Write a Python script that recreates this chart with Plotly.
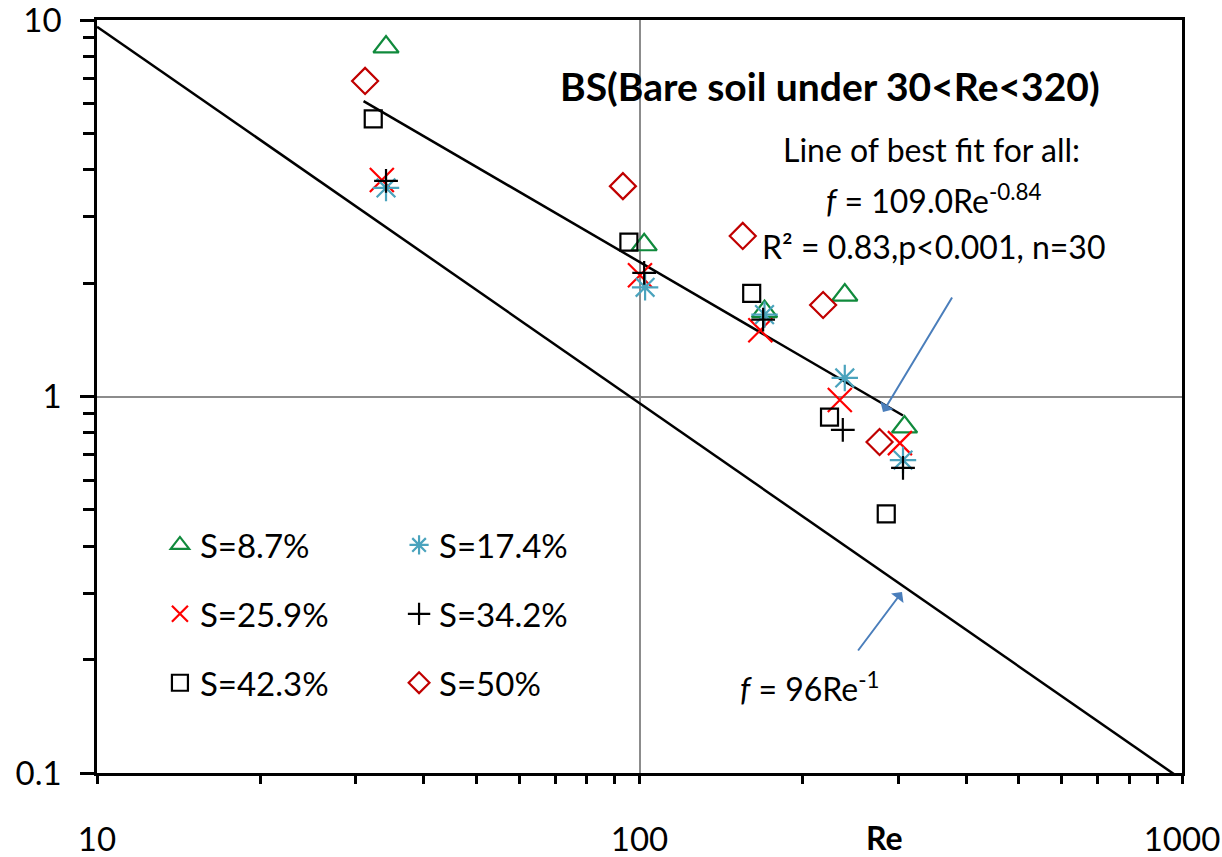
import plotly.graph_objects as go

# ---- data ----
re_s87 = [34.1, 102, 170, 239, 308]
f_s87 = [8.48, 2.53, 1.68, 1.86, 0.83]
re_s174 = [34.1, 102.4, 170, 239, 306]
f_s174 = [3.58, 1.95, 1.65, 1.12, 0.678]
re_s259 = [33.5, 100.2, 167, 234, 302]
f_s259 = [3.76, 2.10, 1.50, 0.979, 0.752]
re_s342 = [34.1, 102, 169, 237, 306]
f_s342 = [3.74, 2.13, 1.60, 0.815, 0.646]
re_s423 = [32.3, 95.6, 161, 224, 285]
f_s423 = [5.46, 2.57, 1.88, 0.882, 0.488]
re_s50 = [31.2, 93.2, 155, 218, 277]
f_s50 = [6.89, 3.62, 2.67, 1.75, 0.757]

# model lines (straight in log-log space)
laminar_coef, laminar_exp = 96.0, -1.0
laminar_re = [10, 1000]
fit_coef, fit_exp = 109.0, -0.84
fit_re = [31.0, 306.0]

x_ticks = [10, 100, 1000]
y_ticks = [0.1, 1, 10]

FONT = "Lato"

fig = go.Figure()

fig.add_trace(go.Scatter(
    x=laminar_re, y=[laminar_coef * r ** laminar_exp for r in laminar_re],
    mode="lines", line=dict(color="black", width=2.5), showlegend=False, hoverinfo="skip"))
fig.add_trace(go.Scatter(
    x=fit_re, y=[fit_coef * r ** fit_exp for r in fit_re],
    mode="lines", line=dict(color="black", width=2.5), showlegend=False, hoverinfo="skip"))

series = [
    ("S=8.7%", re_s87, f_s87, "triangle-up-open", 22, "#108a3c", "legend"),
    ("S=25.9%", re_s259, f_s259, "x-thin-open", 24, "#ff0000", "legend"),
    ("S=42.3%", re_s423, f_s423, "square-open", 17, "#000000", "legend"),
    ("S=17.4%", re_s174, f_s174, "asterisk-open", 22, "#4aa3bd", "legend2"),
    ("S=34.2%", re_s342, f_s342, "cross-thin-open", 17, "#000000", "legend2"),
    ("S=50%", re_s50, f_s50, "diamond-open", 20, "#c00000", "legend2"),
]
for name, xs, ys, sym, size, col, leg in series:
    fig.add_trace(go.Scatter(
        x=xs, y=ys, mode="markers", name=name, legend=leg, legendgroup=name,
        marker=dict(symbol=sym, size=size, color=col, line=dict(color=col, width=2.2))))

axis_common = dict(
    type="log", showline=True, linecolor="black", linewidth=2.5, mirror=True,
    showgrid=True, gridcolor="#8c8c8c", gridwidth=2, zeroline=False,
    ticks="outside", tickcolor="black", tickwidth=2.5, automargin=False,
    ticklabeloverflow="allow",
    tickfont=dict(family=FONT, size=33, color="black"),
)
fig.update_xaxes(**axis_common, range=[1, 3], tickvals=x_ticks, ticktext=["10", "100", "1000"],
                 ticklen=8, ticklabelstandoff=28,
                 minor=dict(ticks="outside", ticklen=8, tickcolor="black", tickwidth=2.5,
                            dtick="D1", showgrid=False))
fig.update_yaxes(**axis_common, range=[-1, 1], tickvals=y_ticks, ticktext=["0.1", "1", "10"],
                 ticklen=14, ticklabelstandoff=12,
                 minor=dict(ticks="outside", ticklen=11, tickcolor="black", tickwidth=2.5,
                            dtick="D1", showgrid=False))

leg_common = dict(bgcolor="rgba(0,0,0,0)", borderwidth=0, tracegroupgap=23,
                  font=dict(family=FONT, size=33, color="black"),
                  xanchor="left", yanchor="top", itemsizing="trace")
fig.update_layout(
    width=1222, height=857,
    margin=dict(l=97, r=40, t=20, b=84, autoexpand=False),
    paper_bgcolor="white", plot_bgcolor="white",
    font=dict(family=FONT, color="black"),
    legend=dict(**leg_common, x=0.058, y=0.34),
    legend2=dict(**leg_common, x=0.2784, y=0.34),
)


def note(x, y, text, size=32):
    fig.add_annotation(xref="paper", yref="paper", x=x, y=y, xanchor="center", yanchor="middle",
                       showarrow=False, text=text,
                       font=dict(family=FONT, size=size, color="black"))


note(0.676, 0.913, "<b>BS(Bare soil under 30&lt;Re&lt;320)</b>", size=39)
note(0.769, 0.828, "Line of best fit for all:")
note(0.771, 0.762, "<i>f</i> = 109.0Re<sup>-0.84</sup>")
note(0.771, 0.699, "R\u00b2 = 0.83,p&lt;0.001, n=30")
note(0.657, 0.114, "<i>f</i> = 96Re<sup>-1</sup>")
note(0.726, -0.0863, "<b>Re</b>")

# arrows
fig.add_annotation(xref="paper", yref="paper", x=0.7244, y=0.4794, ax=70, ay=-116,
                   text="", showarrow=True, arrowhead=1, arrowsize=1.3, arrowwidth=2,
                   arrowcolor="#4a7ebb")
fig.add_annotation(xref="paper", yref="paper", x=0.7419, y=0.2404, ax=-45, ay=60,
                   text="", showarrow=True, arrowhead=1, arrowsize=1.3, arrowwidth=2,
                   arrowcolor="#4a7ebb")

fig.write_html("out.html")
